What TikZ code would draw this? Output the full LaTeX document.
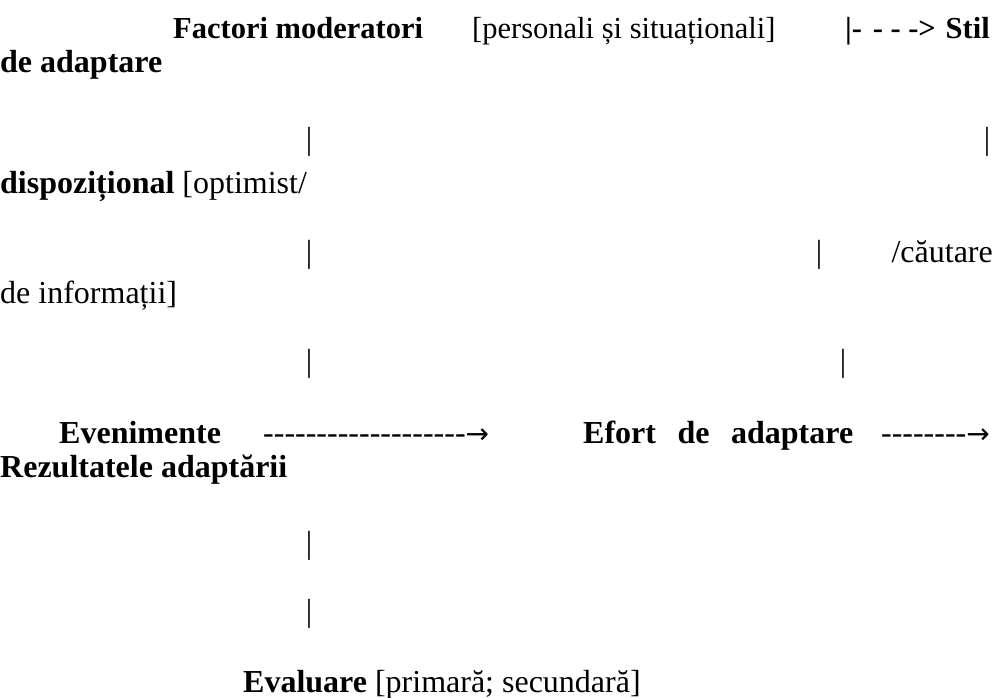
\documentclass[tikz,border=0pt]{standalone}
\usepackage{fontspec}
\setmainfont{Liberation Serif}
\newfontfamily\arrowfont{DejaVu Sans}
\newcommand{\dashrow}[1]{\foreach \k in {1,...,#1}{-}}
\newcommand{\rarrow}{{\arrowfont\fontsize{28}{30}\selectfont →}}
\begin{document}
\begin{tikzpicture}[x=1pt,y=-1pt,font=\fontsize{32}{36}\selectfont,
  txt/.style={anchor=base west,inner sep=0pt},
  rtxt/.style={anchor=base east,inner sep=0pt},
  bar/.style={anchor=base,inner sep=0pt},
  head/.style={font=\fontsize{30.5}{34}\selectfont}]
  \useasboundingbox (0,0) rectangle (995,698);
  % first paragraph
  \node[txt,head] (factori) at (173,39) {\textbf{Factori moderatori}};
  \node[txt,head] (pers) at (472,39) {[personali și situaționali]};
  \node[txt,head] (sageata) at (845,39) {\textbf{|-\hspace{0.35em}- - ->}};
  \node[rtxt,head] (stil) at (990,39) {\textbf{Stil}};
  \node[txt] (deadapt) at (0,73) {\textbf{de adaptare}};
  % bars and the wrapped text
  \node[bar] (b1) at (309,149) {|};
  \node[bar] (b2) at (987,149) {|};
  \node[txt] (disp) at (0,193) {\textbf{dispozițional} [optimist/};
  \node[bar] (b3) at (309,262) {|};
  \node[bar] (b4) at (819,262) {|};
  \node[rtxt] (caut) at (993,262) {/căutare};
  \node[txt] (info) at (0,303) {de informații]};
  \node[bar] (b5) at (309,371) {|};
  \node[bar] (b6) at (843,371) {|};
  % main row
  \node[txt] (even) at (59,443) {\textbf{Evenimente}};
  \node[txt] (d1) at (263,443) {\dashrow{19}\rarrow};
  \node[txt] (efort) at (583,443) {\makebox[270pt][s]{\textbf{Efort de adaptare}}};
  \node[rtxt] (d2) at (990,443) {\dashrow{8}\rarrow};
  \node[txt] (rez) at (0,477) {\textbf{Rezultatele adaptării}};
  % evaluation
  \node[bar] (b7) at (309,553) {|};
  \node[bar] (b8) at (309,621) {|};
  \node[txt] (eval) at (243,692) {\textbf{Evaluare} [primară; secundară]};
\end{tikzpicture}
\end{document}
